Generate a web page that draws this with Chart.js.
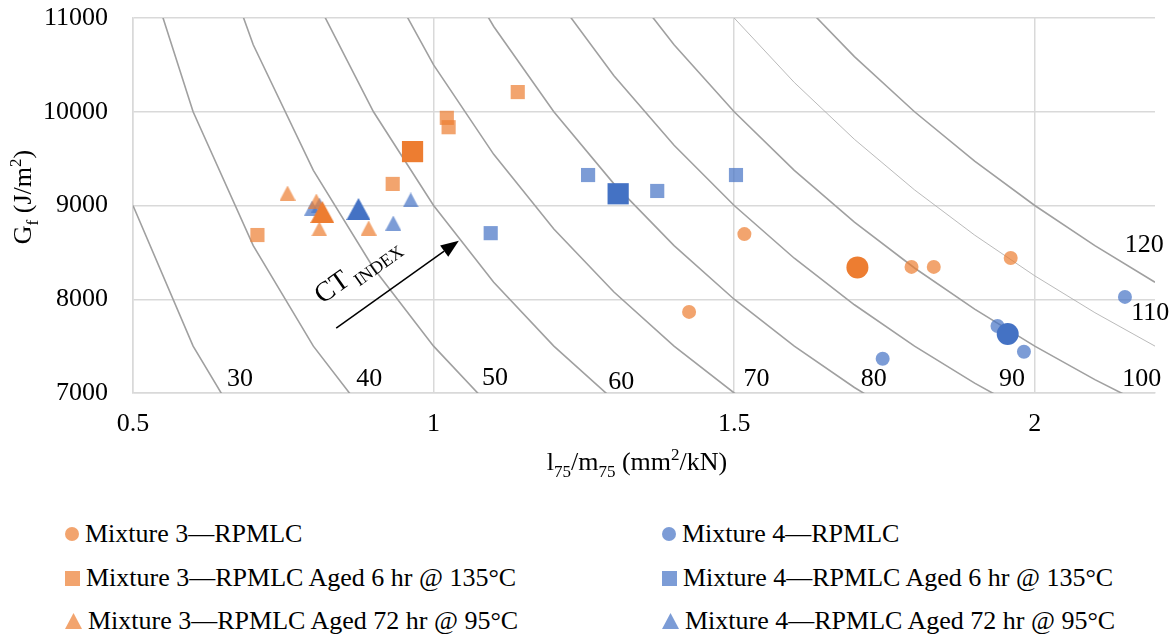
<!DOCTYPE html>
<html lang="en">
<head>
<meta charset="UTF-8">
<title>Fracture energy vs l75/m75 with CT index contours</title>
<script src="https://cdn.jsdelivr.net/npm/chart.js"></script>
<style>
  body { margin: 0; background: #fff; }
  .wrap { position: relative; width: 1172px; height: 636px; font-family: "Liberation Serif", "Times New Roman", serif; }
  #chart { position: absolute; left: 0; top: 0; }
  .item { position: absolute; height: 40px; line-height: 40px; font-size: 26px; color: #000; white-space: nowrap; }
  .mark { display: inline-block; vertical-align: middle; margin-right: 6px; position: relative; top: -2px; }
</style>
</head>
<body>
<div class="wrap">
  <canvas id="chart" width="1172" height="500"></canvas>
  <div id="legend"></div>
</div>

<script>
// l75/m75 (mm2/kN) and Gf (J/m2) for each specimen
const m3X = [1.425, 1.517, 1.795, 1.832, 1.960];
const m3Gf = [7865, 8695, 8345, 8345, 8440];
const m3Mean = [1.705, 8340];

const m4X = [1.747, 1.938, 1.982, 2.150];
const m4Gf = [7365, 7715, 7440, 8025];
const m4Mean = [1.955, 7630];

const m3a6X = [0.707, 0.932, 1.022, 1.025, 1.140];
const m3a6Gf = [8685, 9230, 9935, 9835, 10210];
const m3a6Mean = [0.965, 9575];

const m4a6X = [1.095, 1.257, 1.372, 1.503];
const m4a6Gf = [8705, 9325, 9155, 9325];
const m4a6Mean = [1.307, 9125];

const m3a72X = [0.757, 0.805, 0.810, 0.892];
const m3a72Gf = [9133, 9048, 8750, 8760];
const m3a72Mean = [0.815, 8930];

const m4a72X = [0.798, 0.810, 0.933, 0.962];
const m4a72Gf = [8973, 9005, 8813, 9059];
const m4a72Mean = [0.875, 8963];

const seriesNames = [
  'Mixture 3—RPMLC',
  'Mixture 4—RPMLC',
  'Mixture 3—RPMLC Aged 6 hr @ 135°C',
  'Mixture 4—RPMLC Aged 6 hr @ 135°C',
  'Mixture 3—RPMLC Aged 72 hr @ 95°C',
  'Mixture 4—RPMLC Aged 72 hr @ 95°C'
];

// CT index contours: CT = Gf * (l75/m75) / 150, evaluated on this grid
const ctLevels = [30, 40, 50, 60, 70, 80, 90, 100, 110, 120];
const xGrid = [0.5, 0.6, 0.7, 0.8, 0.9, 1.0, 1.1, 1.2, 1.3, 1.4, 1.5, 1.6, 1.7, 1.8, 1.9, 2.0, 2.1, 2.2];
const CT_SCALE = 150;

const xTicks = [0.5, 1, 1.5, 2];
const yTicks = [7000, 8000, 9000, 10000, 11000];

// where each contour value is written, in axis units
const ctLabelAt = [
  [0.678, 7150], [0.893, 7150], [1.102, 7160], [1.312, 7120], [1.537, 7150],
  [1.732, 7150], [1.962, 7150], [2.178, 7150], [2.192, 7855], [2.182, 8580]
];
const arrowFrom = [0.838, 7693];
const arrowTo = [1.042, 8625];
const ctTextAt = [0.815, 7945];

const SERIF = '"Liberation Serif", "Times New Roman", serif';
const ORANGE = 'rgb(237,125,49)';
const ORANGE_LT = 'rgba(237,125,49,0.7)';
const BLUE = 'rgb(68,114,196)';
const BLUE_LT = 'rgba(68,114,196,0.7)';

Chart.defaults.font.family = SERIF;
Chart.defaults.font.size = 26;
Chart.defaults.color = '#000';

function triangle(w, h, color) {
  const c = document.createElement('canvas');
  c.width = w; c.height = h;
  const g = c.getContext('2d');
  g.fillStyle = color;
  g.beginPath();
  g.moveTo(w / 2, 0); g.lineTo(w, h); g.lineTo(0, h);
  g.closePath(); g.fill();
  return c;
}

const series = [
  { x: m3X, gf: m3Gf, mean: m3Mean },
  { x: m4X, gf: m4Gf, mean: m4Mean },
  { x: m3a6X, gf: m3a6Gf, mean: m3a6Mean },
  { x: m4a6X, gf: m4a6Gf, mean: m4a6Mean },
  { x: m3a72X, gf: m3a72Gf, mean: m3a72Mean },
  { x: m4a72X, gf: m4a72Gf, mean: m4a72Mean }
];

const looks = [
  { shape: 'circle', light: ORANGE_LT, dark: ORANGE, small: 7, big: 11 },
  { shape: 'circle', light: BLUE_LT, dark: BLUE, small: 7, big: 11 },
  { shape: 'rect', light: ORANGE_LT, dark: ORANGE, small: 10, big: 15 },
  { shape: 'rect', light: BLUE_LT, dark: BLUE, small: 10, big: 15 },
  { shape: 'tri', light: ORANGE_LT, dark: ORANGE },
  { shape: 'tri', light: BLUE_LT, dark: BLUE }
];

const datasets = [];
series.forEach((s, i) => {
  const lk = looks[i];
  const isTri = lk.shape === 'tri';
  datasets.push({
    label: seriesNames[i],
    data: s.x.map((v, j) => ({ x: v, y: s.gf[j] })),
    pointStyle: isTri ? triangle(16, 15, lk.light) : lk.shape,
    pointRadius: isTri ? 8 : lk.small,
    backgroundColor: lk.light,
    pointBorderWidth: 0,
    borderWidth: 0,
    order: 2
  });
  datasets.push({
    label: seriesNames[i] + ' (mean)',
    data: [{ x: s.mean[0], y: s.mean[1] }],
    pointStyle: isTri ? triangle(24, 22, lk.dark) : lk.shape,
    pointRadius: isTri ? 12 : lk.big,
    backgroundColor: lk.dark,
    pointBorderWidth: 0,
    borderWidth: 0,
    order: 1
  });
});

ctLevels.forEach(ct => {
  datasets.push({
    label: 'CT ' + ct,
    data: xGrid.map(v => ({ x: v, y: CT_SCALE * ct / v })),
    showLine: true,
    pointRadius: 0,
    borderColor: ct === 110 ? '#a8a8a8' : '#a0a0a0',
    borderWidth: ct === 110 ? 0.8 : 1.6,
    fill: false,
    order: 5
  });
});

// draws text runs with sub/superscripts, y is the baseline
function richText(ctx, parts, x, y, align, size) {
  const small = Math.round(size * 0.65);
  let w = 0;
  parts.forEach(([t, k]) => {
    ctx.font = (k ? small : size) + 'px ' + SERIF;
    w += ctx.measureText(t).width;
  });
  let cx = align === 'center' ? x - w / 2 : x;
  ctx.textAlign = 'left';
  ctx.textBaseline = 'alphabetic';
  parts.forEach(([t, k]) => {
    ctx.font = (k ? small : size) + 'px ' + SERIF;
    const dy = k === 'sub' ? size * 0.25 : k === 'sup' ? -size * 0.38 : 0;
    ctx.fillText(t, cx, y + dy);
    cx += ctx.measureText(t).width;
  });
}

const annotations = {
  id: 'annotations',
  afterDatasetsDraw(chart) {
    const { ctx, scales: { x, y } } = chart;
    ctx.save();
    ctx.fillStyle = '#000';
    ctx.strokeStyle = '#000';

    // contour values
    ctx.font = '26px ' + SERIF;
    ctx.textAlign = 'center';
    ctx.textBaseline = 'middle';
    ctLevels.forEach((ct, i) => {
      ctx.fillText(String(ct), x.getPixelForValue(ctLabelAt[i][0]), y.getPixelForValue(ctLabelAt[i][1]));
    });

    // arrow pointing to increasing CT index
    const ax0 = x.getPixelForValue(arrowFrom[0]), ay0 = y.getPixelForValue(arrowFrom[1]);
    const ax1 = x.getPixelForValue(arrowTo[0]), ay1 = y.getPixelForValue(arrowTo[1]);
    const ang = Math.atan2(ay1 - ay0, ax1 - ax0);
    const head = 18, half = 7;
    const bx = ax1 - head * Math.cos(ang), by = ay1 - head * Math.sin(ang);
    ctx.lineWidth = 1.5;
    ctx.beginPath();
    ctx.moveTo(ax0, ay0);
    ctx.lineTo(bx, by);
    ctx.stroke();
    ctx.beginPath();
    ctx.moveTo(ax1, ay1);
    ctx.lineTo(bx + half * Math.sin(ang), by - half * Math.cos(ang));
    ctx.lineTo(bx - half * Math.sin(ang), by + half * Math.cos(ang));
    ctx.closePath();
    ctx.fill();

    ctx.save();
    ctx.translate(x.getPixelForValue(ctTextAt[0]), y.getPixelForValue(ctTextAt[1]));
    ctx.rotate(ang);
    richText(ctx, [['CT', ''], [' INDEX', 'sub']], 0, 0, 'left', 28);
    ctx.restore();

    // axis titles
    richText(ctx, [['l', ''], ['75', 'sub'], ['/m', ''], ['75', 'sub'], [' (mm', ''], ['2', 'sup'], ['/kN)', '']],
      637, 470, 'center', 26);
    ctx.save();
    ctx.translate(31, 197);
    ctx.rotate(-Math.PI / 2);
    richText(ctx, [['G', ''], ['f', 'sub'], [' (J/m', ''], ['2', 'sup'], [')', '']], 0, 0, 'center', 26);
    ctx.restore();

    ctx.restore();
  }
};

const gridColor = '#d9d9d9';
const tickFont = { family: SERIF, size: 26 };

new Chart(document.getElementById('chart'), {
  type: 'scatter',
  data: { datasets },
  options: {
    responsive: false,
    animation: false,
    events: [],
    layout: { padding: { left: 0, right: 17, top: 18, bottom: 0 } },
    plugins: { legend: { display: false }, tooltip: { enabled: false } },
    scales: {
      x: {
        type: 'linear',
        min: 0.5,
        max: 2.2,
        afterBuildTicks: s => { s.ticks = xTicks.map(v => ({ value: v })); },
        afterFit: s => { s.height = 107; s.paddingLeft = 0; s.paddingRight = 0; },
        grid: { color: gridColor, lineWidth: 1.5, drawTicks: false },
        border: { color: gridColor, width: 1.5 },
        ticks: { padding: 16, color: '#000', font: tickFont, callback: v => String(v) }
      },
      y: {
        type: 'linear',
        min: 7000,
        max: 11000,
        afterBuildTicks: s => { s.ticks = yTicks.map(v => ({ value: v })); },
        afterFit: s => { s.width = 133; s.paddingTop = 0; s.paddingBottom = 0; },
        grid: { color: gridColor, lineWidth: 1.5, drawTicks: false },
        border: { color: gridColor, width: 1.5 },
        ticks: { padding: 25, color: '#000', font: tickFont, callback: v => String(v) }
      }
    }
  },
  plugins: [annotations]
});

// legend below the plot: Mixture 3 on the left, Mixture 4 on the right
const legend = document.getElementById('legend');
const colLeft = [65, 662];
const rowMid = [534, 578, 621];
seriesNames.forEach((name, i) => {
  const lk = looks[i];
  const item = document.createElement('div');
  item.className = 'item';
  item.style.left = colLeft[i % 2] + 'px';
  item.style.top = (rowMid[Math.floor(i / 2)] - 20) + 'px';
  const mark = document.createElement('span');
  mark.className = 'mark';
  if (lk.shape === 'circle') {
    Object.assign(mark.style, { width: '14px', height: '14px', borderRadius: '50%', background: lk.light });
  } else if (lk.shape === 'rect') {
    Object.assign(mark.style, { width: '15px', height: '15px', background: lk.light });
  } else {
    Object.assign(mark.style, { width: '17px', height: '16px', background: lk.light, clipPath: 'polygon(50% 0, 100% 100%, 0 100%)' });
  }
  item.appendChild(mark);
  item.appendChild(document.createTextNode(name));
  legend.appendChild(item);
});
</script>
</body>
</html>
